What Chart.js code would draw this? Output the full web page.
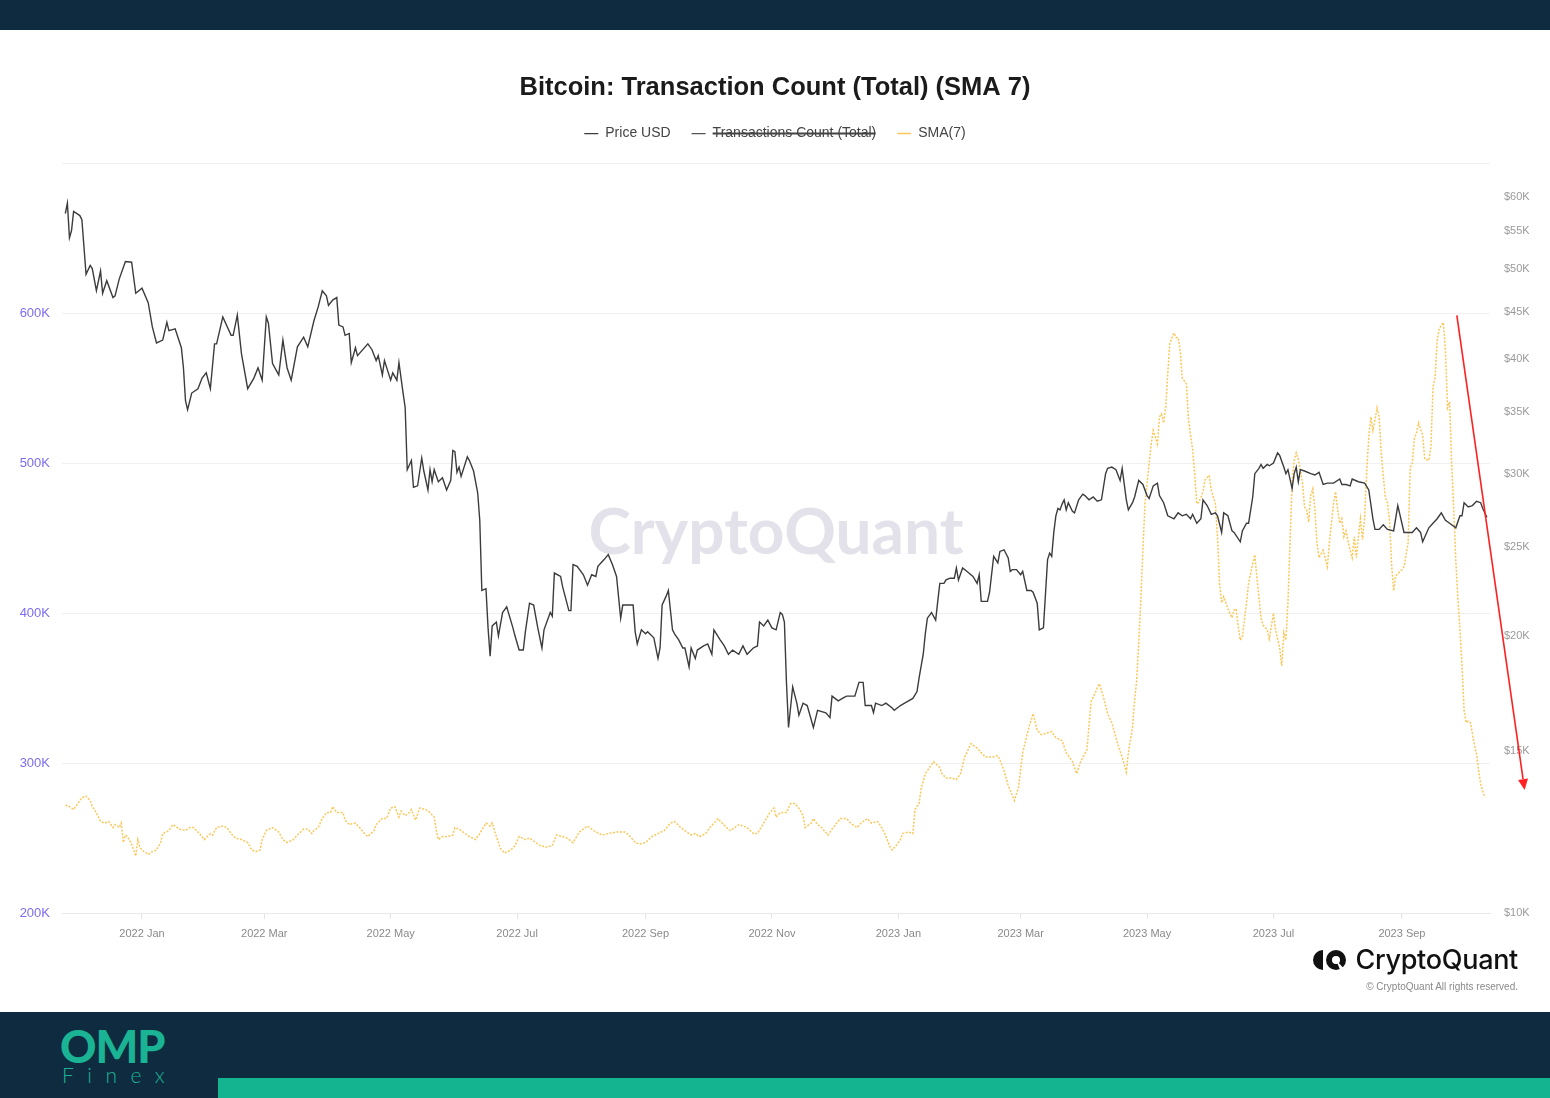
<!DOCTYPE html>
<html>
<head>
<meta charset="utf-8">
<script src="https://cdn.jsdelivr.net/npm/chart.js@4.4.1/dist/chart.umd.min.js"></script>
<style>
html,body{margin:0;padding:0;background:#fff;width:1550px;height:1098px;overflow:hidden;font-family:"Liberation Sans",Arial,sans-serif}
#top{position:absolute;left:0;top:0;width:1550px;height:30px;background:#0f2b40}
#wrap{position:absolute;left:0;top:30px;width:1550px;height:982px}
#foot{position:absolute;left:0;top:1012px;width:1550px;height:86px;background:#0f2b40}
#bar{position:absolute;left:218px;top:66px;width:1332px;height:20px;background:#13b48f}
#omp{position:absolute;left:60px;top:12px;font:900 45px Lato;color:#1ab394;letter-spacing:-1px;line-height:1}
#finex{position:absolute;left:62px;top:52px;font:300 21px Lato;color:#1ab394;letter-spacing:13.5px;line-height:1}
#cqlogo{position:absolute;right:32px;top:916px;display:flex;align-items:center;gap:8px}
#cqtext{font:500 27px Inter;color:#111;letter-spacing:-0.3px;line-height:1}
#copy{position:absolute;right:32px;top:951px;font:10px "Liberation Sans",Arial,sans-serif;color:#8a8a8a}
</style>
</head>
<body>
<div id="top"></div>
<div id="wrap"><canvas id="c"></canvas>
  <div id="cqlogo">
    <svg width="36" height="24" viewBox="0 0 36 24"><path d="M12 2 A10 10 0 0 0 12 22 Z" fill="#111"/><circle cx="25" cy="12" r="10" fill="#111"/><circle cx="25" cy="12" r="4" fill="#fff"/><path d="M25 12 L36 24 L30 24 Z" fill="#fff"/></svg>
    <span id="cqtext">CryptoQuant</span>
  </div>
  <div id="copy">© CryptoQuant All rights reserved.</div>
</div>
<div id="foot"><div id="omp">OMP</div><div id="finex">Finex</div><div id="bar"></div></div>
<script>
// ---- data ----
const CHART_TITLE = 'Bitcoin: Transaction Count (Total) (SMA 7)';
const START_DATE = '2021-11-25'; // day 0
const xTickLabels = ['2022 Jan','2022 Mar','2022 May','2022 Jul','2022 Sep','2022 Nov','2023 Jan','2023 Mar','2023 May','2023 Jul','2023 Sep'];
const xTickDates  = ['2022-01-01','2022-03-01','2022-05-01','2022-07-01','2022-09-01','2022-11-01','2023-01-01','2023-03-01','2023-05-01','2023-07-01','2023-09-01'];
const priceTicksK = [10,15,20,25,30,35,40,45,50,55,60];
const countTicksK = [200,300,400,500,600,700];
const seriesLabels = ['Price USD','Transactions Count (Total)','SMA(7)'];

// [day, BTC price in $K]
const priceK = [[0,57.5],[1,59.0],[2,54.1],[3,55.1],[4,57.8],[7,57.2],[8,56.6],[10,49.4],[12,50.5],[13,50.1],[15,47.4],[17,49.8],[18,47.1],[20,48.6],[23,46.6],[24,46.8],[26,48.8],[29,51.0],[32,50.9],[34,47.1],[37,47.7],[40,46.0],[42,43.3],[44,41.6],[47,41.9],[49,43.8],[50,42.9],[53,43.1],[56,41.1],[57,39.1],[58,36.0],[59,35.2],[61,36.7],[64,37.1],[66,38.1],[68,38.6],[70,37.1],[72,41.5],[73,41.5],[76,44.4],[80,42.4],[81,42.4],[83,44.6],[85,40.5],[88,37.1],[91,38.1],[93,39.1],[95,37.9],[97,44.4],[98,43.7],[100,39.5],[103,38.4],[105,41.9],[107,39.1],[109,37.9],[112,41.2],[115,42.2],[117,41.2],[120,44.0],[122,45.5],[124,47.4],[126,46.8],[127,45.7],[129,46.3],[131,46.6],[132,43.5],[134,43.3],[135,42.4],[137,42.6],[138,39.6],[140,41.1],[141,40.3],[146,41.5],[148,40.9],[150,39.8],[151,40.3],[153,38.4],[154,39.8],[157,37.9],[158,38.6],[160,37.9],[161,39.6],[163,36.7],[164,35.4],[165,30.3],[167,31.0],[168,29.0],[170,29.1],[172,31.2],[173,30.2],[175,28.8],[176,30.3],[177,29.4],[178,30.3],[180,29.4],[182,29.7],[184,28.8],[186,29.5],[187,31.8],[188,31.7],[189,30.1],[190,30.5],[191,29.8],[194,31.3],[195,31.0],[197,30.2],[199,28.6],[200,26.7],[201,22.4],[203,22.5],[204,20.4],[205,19.0],[206,20.5],[208,20.7],[209,20.0],[211,21.2],[213,21.5],[216,20.4],[217,20.0],[219,19.3],[221,19.3],[222,20.2],[224,21.7],[226,21.6],[228,20.4],[230,19.4],[231,20.3],[234,21.2],[235,21.0],[236,23.4],[239,23.2],[240,22.6],[243,21.3],[244,21.3],[245,23.9],[247,23.8],[250,23.3],[252,22.7],[254,23.3],[256,23.2],[257,23.8],[260,24.2],[262,24.5],[264,23.9],[266,23.2],[268,20.9],[269,21.6],[273,21.6],[274,21.6],[275,20.2],[276,19.6],[278,20.3],[280,20.1],[281,20.2],[284,19.9],[286,18.9],[287,19.4],[288,21.6],[290,22.1],[291,22.4],[293,20.3],[294,20.1],[296,19.8],[298,19.4],[299,19.4],[301,18.5],[302,19.4],[304,18.9],[305,19.3],[308,19.5],[310,19.6],[312,19.1],[313,20.3],[316,19.8],[318,19.5],[320,19.1],[322,19.3],[325,19.1],[327,19.5],[329,19.1],[332,19.4],[334,19.5],[335,20.7],[337,20.5],[339,20.8],[341,20.4],[343,20.3],[345,21.2],[346,21.1],[347,20.7],[348,17.8],[349,15.9],[351,17.6],[353,16.9],[354,16.4],[356,16.9],[358,16.8],[361,15.9],[363,16.6],[367,16.5],[369,16.3],[370,17.2],[373,17.0],[375,17.1],[377,17.2],[379,17.2],[381,17.2],[383,17.8],[385,17.8],[386,16.8],[389,16.8],[390,16.5],[391,16.9],[394,16.8],[396,16.9],[399,16.7],[400,16.6],[403,16.8],[405,16.9],[409,17.1],[411,17.4],[412,18.0],[414,19.1],[415,20.1],[416,20.9],[418,21.2],[420,20.8],[421,21.8],[422,22.8],[424,22.8],[425,23.0],[427,23.1],[429,23.1],[430,23.7],[431,23.0],[433,23.7],[435,23.5],[438,23.2],[440,22.8],[441,23.3],[442,21.8],[445,21.8],[446,22.3],[448,24.4],[450,24.0],[451,24.7],[453,24.8],[455,24.3],[456,23.5],[457,23.6],[459,23.6],[461,23.3],[462,23.5],[464,22.4],[466,22.4],[467,22.3],[469,21.7],[470,20.3],[472,20.4],[474,24.2],[475,24.6],[476,24.4],[477,25.9],[478,27.0],[479,27.5],[480,27.4],[481,27.8],[482,28.1],[483,27.4],[484,27.9],[486,27.3],[487,27.2],[489,28.1],[491,28.5],[492,28.4],[494,28.1],[496,28.3],[498,28.0],[500,28.1],[502,30.0],[503,30.4],[505,30.5],[507,30.3],[509,29.5],[510,30.4],[512,28.1],[513,27.4],[515,27.9],[516,28.3],[518,29.5],[520,29.2],[522,28.4],[523,28.2],[525,29.1],[527,29.3],[528,28.4],[530,27.9],[532,27.0],[535,26.8],[537,27.2],[539,27.0],[541,27.1],[543,26.8],[544,27.1],[546,26.5],[548,26.8],[549,28.1],[551,27.7],[553,27.1],[555,27.2],[556,27.0],[558,25.9],[559,27.2],[561,27.0],[563,26.0],[564,25.9],[567,25.3],[568,26.0],[570,26.5],[571,26.5],[573,28.3],[574,30.0],[576,30.4],[577,30.7],[578,30.4],[580,30.7],[581,30.6],[583,30.8],[585,31.6],[586,31.4],[588,30.5],[589,30.0],[590,30.3],[592,28.9],[593,30.0],[594,30.5],[595,29.4],[596,30.3],[598,30.2],[601,30.0],[603,29.9],[605,30.1],[607,29.2],[609,29.3],[612,29.3],[615,29.6],[616,29.2],[618,29.2],[620,29.1],[621,29.6],[624,29.4],[627,29.3],[629,28.8],[631,26.8],[632,26.1],[634,26.1],[636,26.4],[638,26.1],[641,26.0],[643,27.7],[644,27.1],[646,25.9],[648,25.9],[650,25.9],[652,26.2],[654,25.9],[655,25.3],[658,26.2],[660,26.5],[662,26.8],[664,27.2],[666,26.7],[668,26.5],[671,26.2],[673,27.0],[674,27.0],[675,27.9],[677,27.6],[679,27.7],[681,28.0],[683,27.9],[684,27.5],[686,26.9]];

// [day, transaction count SMA(7) in K]
const smaK = [[0,272],[2,271],[4,269],[6,273],[8,277],[10,278],[12,275],[13,271],[15,267],[17,261],[19,260],[21,261],[23,257],[24,259],[26,257],[27,260],[28,247],[29,252],[30,251],[32,246],[33,242],[34,238],[35,249],[36,244],[37,242],[40,239],[42,241],[44,242],[46,247],[47,253],[50,255],[52,259],[55,256],[58,255],[60,257],[62,257],[64,254],[66,251],[67,249],[70,253],[71,252],[73,257],[76,258],[78,257],[80,253],[82,250],[85,249],[88,247],[90,242],[92,241],[94,242],[95,249],[97,255],[100,257],[103,254],[105,249],[107,247],[110,249],[112,252],[115,256],[117,256],[119,253],[120,255],[122,257],[124,263],[126,267],[128,267],[129,271],[131,267],[134,267],[135,262],[137,259],[140,260],[142,257],[145,252],[146,251],[149,255],[150,259],[153,263],[155,263],[157,270],[159,271],[161,264],[162,268],[164,265],[166,267],[167,269],[169,262],[171,270],[174,269],[176,267],[178,264],[179,255],[180,249],[182,251],[184,251],[187,252],[188,257],[190,256],[193,253],[195,251],[198,249],[200,253],[203,260],[205,258],[206,260],[208,251],[210,243],[212,240],[215,242],[217,245],[219,251],[222,249],[224,250],[227,247],[229,245],[232,244],[235,245],[237,252],[240,251],[242,250],[245,247],[248,254],[252,258],[255,255],[259,252],[262,253],[266,254],[270,254],[272,252],[275,247],[277,246],[280,247],[283,251],[286,253],[289,255],[292,260],[294,261],[297,257],[299,255],[302,252],[304,253],[306,251],[309,253],[311,257],[315,263],[319,257],[321,255],[325,259],[329,257],[332,253],[334,253],[337,260],[340,267],[342,270],[343,264],[345,267],[348,267],[350,273],[352,273],[354,270],[356,265],[357,257],[360,260],[361,263],[363,259],[365,257],[368,252],[370,256],[374,263],[377,263],[379,260],[382,257],[384,260],[387,263],[389,260],[392,261],[394,257],[396,251],[398,244],[399,242],[401,245],[403,249],[404,253],[407,254],[409,253],[410,269],[412,273],[413,283],[415,293],[417,297],[419,301],[422,297],[423,293],[425,290],[428,290],[430,289],[432,293],[434,304],[437,313],[440,310],[442,307],[444,304],[447,304],[450,305],[451,302],[453,295],[455,285],[458,275],[460,284],[462,307],[465,324],[467,333],[469,322],[471,319],[476,321],[478,317],[481,315],[483,307],[486,301],[488,293],[490,301],[493,309],[495,341],[499,353],[501,344],[503,333],[505,327],[507,317],[508,312],[510,304],[512,294],[513,307],[515,324],[516,342],[517,355],[518,380],[519,409],[520,442],[521,473],[523,500],[524,513],[525,522],[527,513],[528,531],[529,533],[530,527],[531,537],[532,560],[533,580],[535,587],[536,584],[537,584],[538,575],[539,557],[541,553],[542,529],[544,509],[545,493],[546,473],[547,474],[549,481],[550,489],[552,492],[553,482],[555,473],[556,451],[557,420],[558,407],[559,411],[561,403],[563,397],[564,402],[565,403],[566,391],[567,382],[568,384],[570,407],[571,420],[573,433],[574,439],[575,424],[577,397],[578,392],[580,389],[581,383],[583,400],[584,389],[586,377],[587,365],[588,387],[589,382],[590,407],[591,447],[592,487],[593,502],[594,507],[595,503],[597,487],[598,471],[599,469],[600,461],[601,479],[602,483],[603,469],[604,447],[605,437],[607,442],[609,431],[610,447],[612,473],[613,481],[614,469],[615,460],[616,463],[617,451],[618,455],[620,442],[621,437],[622,451],[623,437],[624,451],[625,463],[626,449],[627,464],[628,495],[629,517],[630,531],[631,522],[632,529],[633,537],[634,531],[635,507],[637,477],[638,474],[639,462],[640,433],[641,415],[642,425],[645,429],[646,431],[648,447],[649,497],[650,500],[651,517],[652,520],[653,527],[655,519],[656,503],[658,502],[659,511],[660,551],[661,557],[662,582],[663,590],[665,594],[666,575],[667,537],[668,541],[669,500],[670,469],[671,435],[672,410],[673,389],[674,365],[675,335],[676,327],[677,328],[678,327],[679,320],[680,312],[681,306],[682,295],[683,286],[684,281],[685,277]];

// red trend arrow annotation, in data units [day, count K]
const arrowFrom = [671.5, 598.7];
const arrowTo   = [704.2, 282];

// ---- build ----
const dayOf = s => Math.round((Date.parse(s + 'T00:00:00Z') - Date.parse(START_DATE + 'T00:00:00Z')) / 86400000);
const xTickDays = xTickDates.map(dayOf);
const toXY = arr => arr.map(p => ({x: p[0], y: p[1]}));

const watermark = {
  id: 'watermark',
  beforeDatasetsDraw(chart) {
    const {ctx, chartArea: a} = chart;
    ctx.save();
    ctx.font = '700 64px Lato';
    ctx.fillStyle = '#e3e1ea';
    ctx.textAlign = 'center';
    ctx.textBaseline = 'middle';
    ctx.fillText('CryptoQuant', (a.left + a.right) / 2, (a.top + a.bottom) / 2 - 5);
    ctx.restore();
  }
};

const arrow = {
  id: 'arrow',
  afterDatasetsDraw(chart) {
    const {ctx, scales} = chart;
    const x0 = scales.x.getPixelForValue(arrowFrom[0]), y0 = scales.yL.getPixelForValue(arrowFrom[1]);
    const x1 = scales.x.getPixelForValue(arrowTo[0]),   y1 = scales.yL.getPixelForValue(arrowTo[1]);
    const ang = Math.atan2(y1 - y0, x1 - x0), L = 11, W = 5;
    const bx = x1 - L * Math.cos(ang), by = y1 - L * Math.sin(ang);
    ctx.save();
    ctx.strokeStyle = '#ff2020'; ctx.fillStyle = '#ff2020'; ctx.lineWidth = 1.6;
    ctx.beginPath(); ctx.moveTo(x0, y0); ctx.lineTo(bx, by); ctx.stroke();
    ctx.beginPath(); ctx.moveTo(x1, y1);
    ctx.lineTo(bx + W * Math.sin(ang), by - W * Math.cos(ang));
    ctx.lineTo(bx - W * Math.sin(ang), by + W * Math.cos(ang));
    ctx.closePath(); ctx.fill();
    ctx.restore();
  }
};

Chart.defaults.font.family = '"Liberation Sans", Arial, sans-serif';

new Chart(document.getElementById('c'), {
  type: 'line',
  data: {
    datasets: [
      { label: seriesLabels[0], data: toXY(priceK), yAxisID: 'yR', borderColor: '#3c3c3c', backgroundColor: '#3c3c3c', borderWidth: 1.4, pointRadius: 0, tension: 0 },
      { label: seriesLabels[1], data: [], hidden: true, yAxisID: 'yL', borderColor: '#555', backgroundColor: '#555', borderWidth: 1.4, pointRadius: 0 },
      { label: seriesLabels[2], data: toXY(smaK), yAxisID: 'yL', borderColor: 'rgba(250,193,70,0.9)', backgroundColor: 'rgba(250,193,70,0.9)', borderWidth: 1.5, borderDash: [2, 1.5], pointRadius: 0, tension: 0 }
    ]
  },
  options: {
    responsive: true, maintainAspectRatio: false, animation: false, devicePixelRatio: 1,
    layout: { padding: 0 },
    plugins: {
      title: { display: true, text: CHART_TITLE, color: '#1b1b1b', font: { size: 25.5, weight: 'bold' }, padding: { top: 43, bottom: 2 } },
      legend: { display: true, position: 'top', align: 'center', onClick: null,
        labels: { boxWidth: 14, boxHeight: 0, padding: 21, color: '#444', font: { size: 14 } } },
      tooltip: { enabled: false }
    },
    scales: {
      x: {
        type: 'linear', min: -1.6, max: 687.5,
        afterBuildTicks: s => { s.ticks = xTickDays.map(v => ({ value: v })); },
        ticks: { autoSkip: false, maxRotation: 0, padding: 8, color: '#8a8a8a', font: { size: 11 }, callback: (v, i) => xTickLabels[i] },
        grid: { drawOnChartArea: false, drawTicks: true, tickLength: 6, color: '#e4e4e4' },
        border: { display: true, color: '#e8e8e8' },
        afterFit: s => { s.height = 99; }
      },
      xGap: {
        axis: 'x', type: 'linear', position: 'top', display: true,
        grid: { display: false }, ticks: { display: false }, border: { display: false },
        afterFit: s => { s.height = 13; }
      },
      yL: {
        type: 'linear', position: 'left', min: 200, max: 700,
        afterBuildTicks: s => { s.ticks = countTicksK.map(v => ({ value: v })); },
        ticks: { color: '#7b6ef0', font: { size: 13 }, padding: 12, callback: v => v >= 700 ? '' : v + 'K' },
        grid: { color: '#f0f0f0', drawTicks: false },
        border: { display: false },
        afterFit: s => { s.width = 62; }
      },
      yR: {
        type: 'logarithmic', position: 'right', min: 10, max: 65.14,
        afterBuildTicks: s => { s.ticks = priceTicksK.map(v => ({ value: v })); },
        ticks: { autoSkip: false, color: '#9a9a9a', font: { size: 11 }, padding: 14, callback: v => '$' + v + 'K' },
        grid: { drawOnChartArea: false, drawTicks: false },
        border: { display: false },
        afterFit: s => { s.width = 60; }
      }
    }
  },
  plugins: [watermark, arrow]
});
</script>
</body>
</html>
